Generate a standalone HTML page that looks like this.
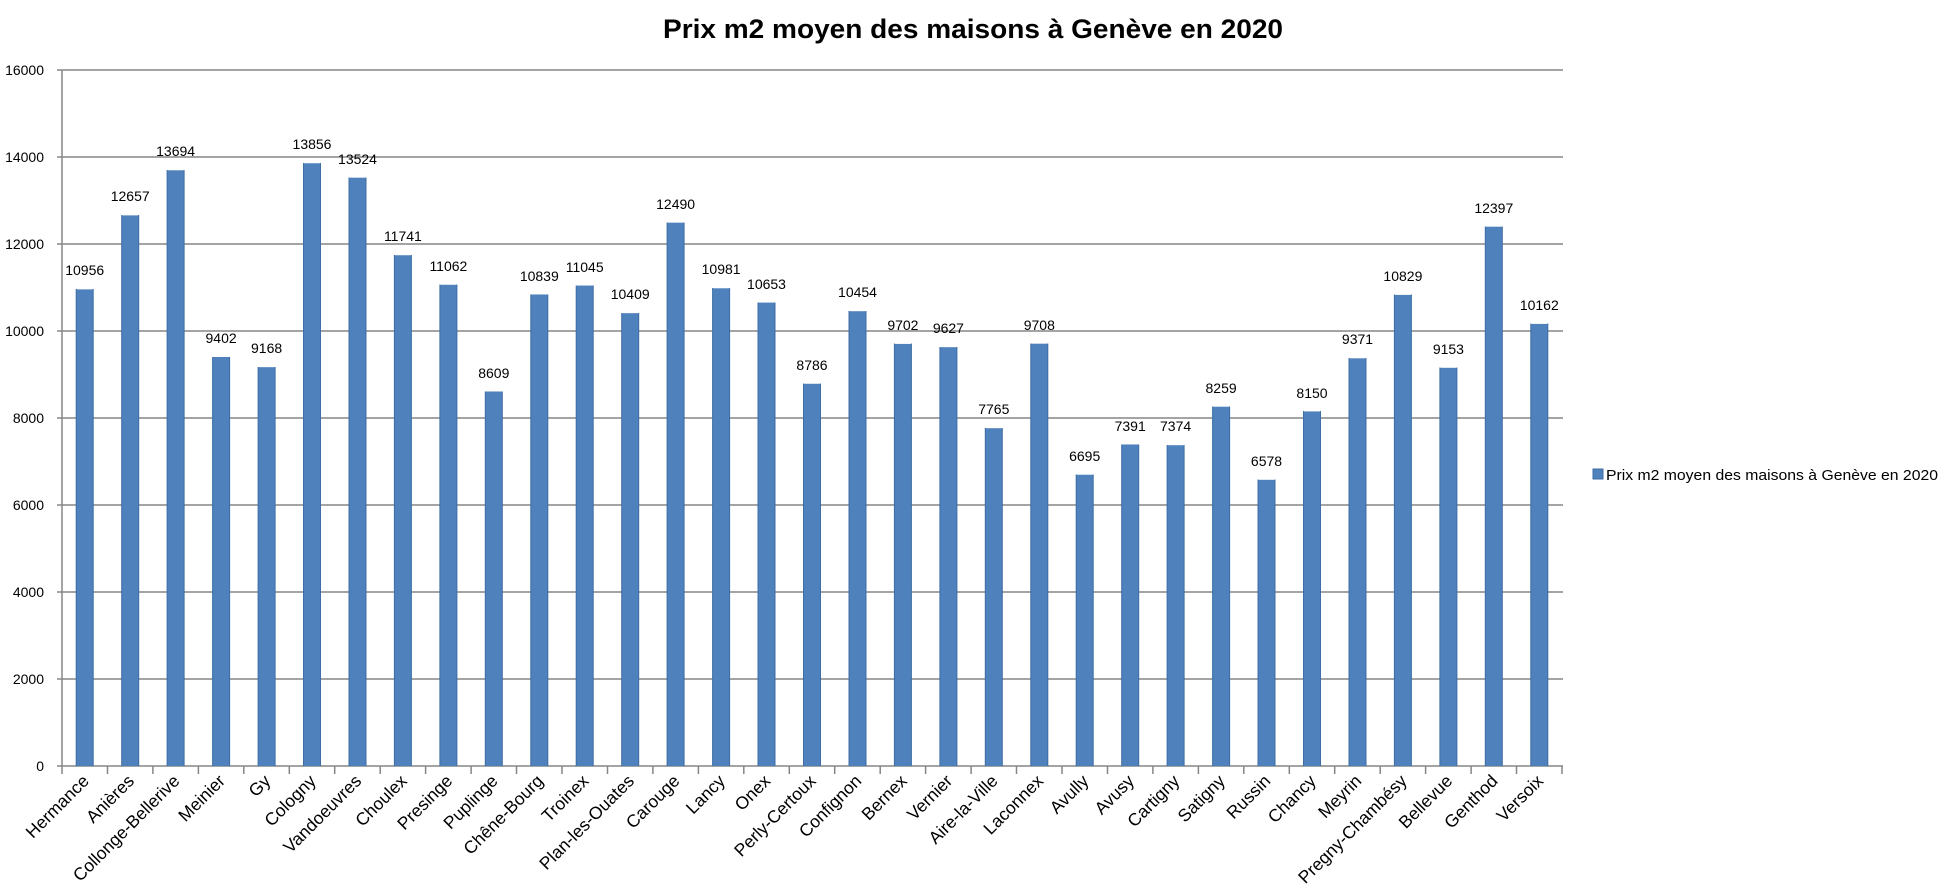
<!DOCTYPE html>
<html><head><meta charset="utf-8"><style>
html,body{margin:0;padding:0;background:#fff;}
svg{display:block;font-family:"Liberation Sans",Arial,sans-serif;}
</style></head><body>
<svg width="1948" height="890" viewBox="0 0 1948 890" xmlns="http://www.w3.org/2000/svg">
<rect width="1948" height="890" fill="#fff"/>
<text x="973" y="38" text-anchor="middle" font-size="27" font-weight="bold" textLength="620" lengthAdjust="spacingAndGlyphs">Prix m2 moyen des maisons à Genève en 2020</text>
<g stroke="#868686" stroke-width="1.5">
<line x1="57" y1="766" x2="1563" y2="766"/>
<line x1="57" y1="679" x2="1563" y2="679"/>
<line x1="57" y1="592" x2="1563" y2="592"/>
<line x1="57" y1="505" x2="1563" y2="505"/>
<line x1="57" y1="418" x2="1563" y2="418"/>
<line x1="57" y1="331" x2="1563" y2="331"/>
<line x1="57" y1="244" x2="1563" y2="244"/>
<line x1="57" y1="157" x2="1563" y2="157"/>
<line x1="57" y1="70" x2="1563" y2="70"/>
<line x1="62" y1="70" x2="62" y2="766"/>
</g>
<g font-size="14" text-anchor="end">
<text x="44" y="771">0</text>
<text x="44" y="684">2000</text>
<text x="44" y="597">4000</text>
<text x="44" y="510">6000</text>
<text x="44" y="423">8000</text>
<text x="44" y="336">10000</text>
<text x="44" y="249">12000</text>
<text x="44" y="162">14000</text>
<text x="44" y="75">16000</text>
</g>
<g stroke="#868686" stroke-width="1.5">
<line x1="62" y1="766" x2="62" y2="774"/><line x1="107.5" y1="766" x2="107.5" y2="774"/><line x1="152.9" y1="766" x2="152.9" y2="774"/><line x1="198.4" y1="766" x2="198.4" y2="774"/><line x1="243.8" y1="766" x2="243.8" y2="774"/><line x1="289.3" y1="766" x2="289.3" y2="774"/><line x1="334.7" y1="766" x2="334.7" y2="774"/><line x1="380.2" y1="766" x2="380.2" y2="774"/><line x1="425.6" y1="766" x2="425.6" y2="774"/><line x1="471.1" y1="766" x2="471.1" y2="774"/><line x1="516.5" y1="766" x2="516.5" y2="774"/><line x1="562" y1="766" x2="562" y2="774"/><line x1="607.5" y1="766" x2="607.5" y2="774"/><line x1="652.9" y1="766" x2="652.9" y2="774"/><line x1="698.4" y1="766" x2="698.4" y2="774"/><line x1="743.8" y1="766" x2="743.8" y2="774"/><line x1="789.3" y1="766" x2="789.3" y2="774"/><line x1="834.7" y1="766" x2="834.7" y2="774"/><line x1="880.2" y1="766" x2="880.2" y2="774"/><line x1="925.6" y1="766" x2="925.6" y2="774"/><line x1="971.1" y1="766" x2="971.1" y2="774"/><line x1="1016.5" y1="766" x2="1016.5" y2="774"/><line x1="1062" y1="766" x2="1062" y2="774"/><line x1="1107.5" y1="766" x2="1107.5" y2="774"/><line x1="1152.9" y1="766" x2="1152.9" y2="774"/><line x1="1198.4" y1="766" x2="1198.4" y2="774"/><line x1="1243.8" y1="766" x2="1243.8" y2="774"/><line x1="1289.3" y1="766" x2="1289.3" y2="774"/><line x1="1334.7" y1="766" x2="1334.7" y2="774"/><line x1="1380.2" y1="766" x2="1380.2" y2="774"/><line x1="1425.6" y1="766" x2="1425.6" y2="774"/><line x1="1471.1" y1="766" x2="1471.1" y2="774"/><line x1="1516.5" y1="766" x2="1516.5" y2="774"/><line x1="1562" y1="766" x2="1562" y2="774"/>
</g>
<g transform="translate(0,766) scale(1,-0.0435)" fill="#4f81bd" stroke="#3d6da5" stroke-width="1" vector-effect="non-scaling-stroke">
<rect x="76.2" y="0" width="17" height="10956"/>
<rect x="121.7" y="0" width="17" height="12657"/>
<rect x="167.1" y="0" width="17" height="13694"/>
<rect x="212.6" y="0" width="17" height="9402"/>
<rect x="258.1" y="0" width="17" height="9168"/>
<rect x="303.5" y="0" width="17" height="13856"/>
<rect x="349" y="0" width="17" height="13524"/>
<rect x="394.4" y="0" width="17" height="11741"/>
<rect x="439.9" y="0" width="17" height="11062"/>
<rect x="485.3" y="0" width="17" height="8609"/>
<rect x="530.8" y="0" width="17" height="10839"/>
<rect x="576.2" y="0" width="17" height="11045"/>
<rect x="621.7" y="0" width="17" height="10409"/>
<rect x="667.1" y="0" width="17" height="12490"/>
<rect x="712.6" y="0" width="17" height="10981"/>
<rect x="758" y="0" width="17" height="10653"/>
<rect x="803.5" y="0" width="17" height="8786"/>
<rect x="849" y="0" width="17" height="10454"/>
<rect x="894.4" y="0" width="17" height="9702"/>
<rect x="939.9" y="0" width="17" height="9627"/>
<rect x="985.3" y="0" width="17" height="7765"/>
<rect x="1030.8" y="0" width="17" height="9708"/>
<rect x="1076.2" y="0" width="17" height="6695"/>
<rect x="1121.7" y="0" width="17" height="7391"/>
<rect x="1167.1" y="0" width="17" height="7374"/>
<rect x="1212.6" y="0" width="17" height="8259"/>
<rect x="1258" y="0" width="17" height="6578"/>
<rect x="1303.5" y="0" width="17" height="8150"/>
<rect x="1349" y="0" width="17" height="9371"/>
<rect x="1394.4" y="0" width="17" height="10829"/>
<rect x="1439.9" y="0" width="17" height="9153"/>
<rect x="1485.3" y="0" width="17" height="12397"/>
<rect x="1530.8" y="0" width="17" height="10162"/>
</g>
<g font-size="14" text-anchor="middle" transform="translate(0,-6)">
<text x="84.7" y="281">10956</text>
<text x="130.2" y="207">12657</text>
<text x="175.6" y="162">13694</text>
<text x="221.1" y="349">9402</text>
<text x="266.6" y="359">9168</text>
<text x="312" y="155">13856</text>
<text x="357.5" y="170">13524</text>
<text x="402.9" y="247">11741</text>
<text x="448.4" y="277">11062</text>
<text x="493.8" y="384">8609</text>
<text x="539.3" y="287">10839</text>
<text x="584.7" y="278">11045</text>
<text x="630.2" y="305">10409</text>
<text x="675.6" y="215">12490</text>
<text x="721.1" y="280">10981</text>
<text x="766.5" y="295">10653</text>
<text x="812" y="376">8786</text>
<text x="857.5" y="303">10454</text>
<text x="902.9" y="336">9702</text>
<text x="948.4" y="339">9627</text>
<text x="993.8" y="420">7765</text>
<text x="1039.3" y="336">9708</text>
<text x="1084.7" y="467">6695</text>
<text x="1130.2" y="437">7391</text>
<text x="1175.6" y="437">7374</text>
<text x="1221.1" y="399">8259</text>
<text x="1266.5" y="472">6578</text>
<text x="1312" y="404">8150</text>
<text x="1357.5" y="350">9371</text>
<text x="1402.9" y="287">10829</text>
<text x="1448.4" y="360">9153</text>
<text x="1493.8" y="219">12397</text>
<text x="1539.3" y="316">10162</text>
</g>
<g font-size="17.5" text-anchor="end">
<text transform="translate(90,782) rotate(-45)">Hermance</text>
<text transform="translate(135.2,782) rotate(-45)">Anières</text>
<text transform="translate(180.6,782) rotate(-45)">Collonge-Bellerive</text>
<text transform="translate(226.1,782) rotate(-45)">Meinier</text>
<text transform="translate(271.6,782) rotate(-45)">Gy</text>
<text transform="translate(317,782) rotate(-45)">Cologny</text>
<text transform="translate(362.5,782) rotate(-45)">Vandoeuvres</text>
<text transform="translate(407.9,782) rotate(-45)">Choulex</text>
<text transform="translate(453.4,782) rotate(-45)">Presinge</text>
<text transform="translate(498.8,782) rotate(-45)">Puplinge</text>
<text transform="translate(544.3,782) rotate(-45)">Chêne-Bourg</text>
<text transform="translate(589.7,782) rotate(-45)">Troinex</text>
<text transform="translate(635.2,782) rotate(-45)">Plan-les-Ouates</text>
<text transform="translate(680.6,782) rotate(-45)">Carouge</text>
<text transform="translate(726.1,782) rotate(-45)">Lancy</text>
<text transform="translate(771.5,782) rotate(-45)">Onex</text>
<text transform="translate(817,782) rotate(-45)">Perly-Certoux</text>
<text transform="translate(862.5,782) rotate(-45)">Confignon</text>
<text transform="translate(907.9,782) rotate(-45)">Bernex</text>
<text transform="translate(953.4,782) rotate(-45)">Vernier</text>
<text transform="translate(998.8,782) rotate(-45)">Aire-la-Ville</text>
<text transform="translate(1044.3,782) rotate(-45)">Laconnex</text>
<text transform="translate(1089.7,782) rotate(-45)">Avully</text>
<text transform="translate(1135.2,782) rotate(-45)">Avusy</text>
<text transform="translate(1180.6,782) rotate(-45)">Cartigny</text>
<text transform="translate(1226.1,782) rotate(-45)">Satigny</text>
<text transform="translate(1271.5,782) rotate(-45)">Russin</text>
<text transform="translate(1317,782) rotate(-45)">Chancy</text>
<text transform="translate(1362.5,782) rotate(-45)">Meyrin</text>
<text transform="translate(1407.9,782) rotate(-45)">Pregny-Chambésy</text>
<text transform="translate(1453.4,782) rotate(-45)">Bellevue</text>
<text transform="translate(1498.8,782) rotate(-45)">Genthod</text>
<text transform="translate(1544.3,782) rotate(-45)">Versoix</text>
</g>
<rect x="1593" y="469" width="10" height="10" fill="#4f81bd" stroke="#3d6da5" stroke-width="1"/>
<text x="1606" y="480" font-size="15" textLength="332" lengthAdjust="spacingAndGlyphs">Prix m2 moyen des maisons à Genève en 2020</text>
</svg>
</body></html>
